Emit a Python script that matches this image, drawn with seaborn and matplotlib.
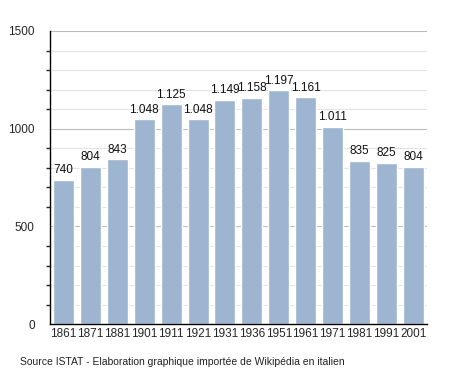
import matplotlib
matplotlib.use("Agg")
import matplotlib.pyplot as plt
import seaborn as sns
import pandas as pd

years = ["1861", "1871", "1881", "1901", "1911", "1921", "1931",
         "1936", "1951", "1961", "1971", "1981", "1991", "2001"]
population = [740, 804, 843, 1048, 1125, 1048, 1149,
              1158, 1197, 1161, 1011, 835, 825, 804]
value_labels = ["740", "804", "843", "1.048", "1.125", "1.048", "1.149",
                "1.158", "1.197", "1.161", "1.011", "835", "825", "804"]

df = pd.DataFrame({"year": years, "pop": population})

sns.set_style("white")
plt.rcParams["font.family"] = ["Liberation Sans", "DejaVu Sans"]

fig = plt.figure(figsize=(4.55, 3.73), dpi=100)
ax = fig.add_axes([0.11, 0.131, 0.828, 0.786])

# griglia leggera ogni 100, più scura ogni 500
for v in range(100, 1501, 100):
    col = "#bbbbbb" if v % 500 == 0 else "#e4e4e4"
    ax.axhline(v, color=col, lw=0.8, zorder=0)

sns.barplot(data=df, x="year", y="pop", color="#9db5d0", saturation=1,
            width=0.78, ax=ax, zorder=2)

for i, (v, lab) in enumerate(zip(population, value_labels)):
    ax.text(i, v + 18, lab, ha="center", va="bottom", fontsize=8.5, color="#111111")

ax.set_ylim(0, 1500)
ax.set_xlim(-0.5, len(years) - 0.5)
ax.set_yticks([0, 500, 1000, 1500])
ax.set_yticks(range(0, 1501, 100), minor=True)
ax.tick_params(axis="y", which="major", length=5, width=1, labelsize=8.5, pad=6)
ax.tick_params(axis="y", which="minor", length=3, width=1, left=True)
ax.tick_params(axis="x", length=0, labelsize=8.5, pad=3)
ax.set_xlabel("")
ax.set_ylabel("")
for s in ["top", "right"]:
    ax.spines[s].set_visible(False)
ax.spines["left"].set_color("black")
ax.spines["bottom"].set_color("black")
ax.spines["left"].set_linewidth(1)
ax.spines["bottom"].set_linewidth(1)

fig.text(0.044, 0.03, "Source ISTAT - Elaboration graphique importée de Wikipédia en italien",
         fontsize=7.5, ha="left", va="center", color="#222222")

fig.savefig("out.png", dpi=100)
